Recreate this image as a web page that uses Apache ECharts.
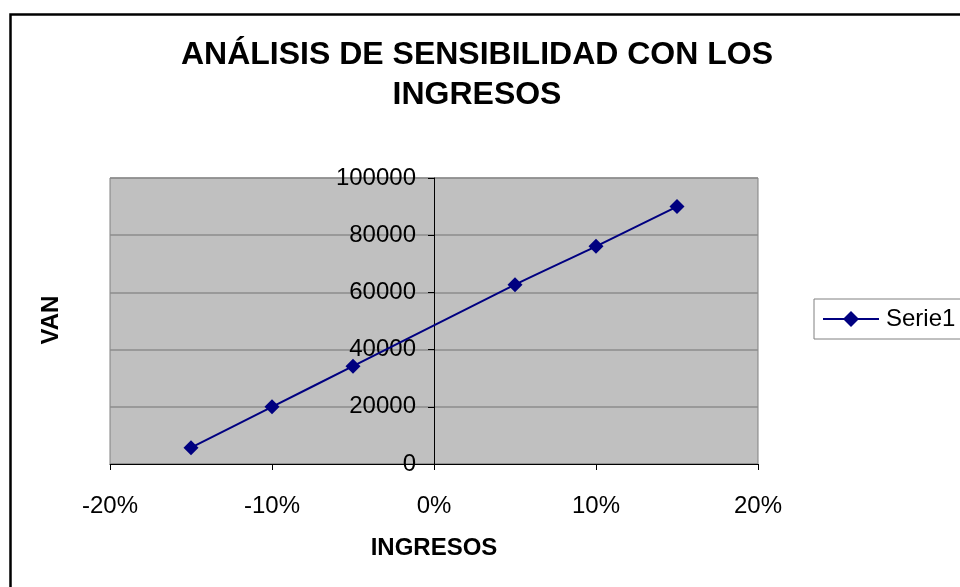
<!DOCTYPE html>
<html>
<head>
    <meta charset="utf-8">
    <title>Análisis de sensibilidad con los ingresos</title>
    <script src="https://cdn.jsdelivr.net/npm/echarts@6/dist/echarts.min.js"></script>
    <style>
        html, body { margin: 0; padding: 0; background: #fff; }
        #chart { width: 960px; height: 587px; }
    </style>
</head>
<body>
<div id="chart"></div>
<script type="text/javascript">
    // variación de ingresos (%) y VAN
    var ingresos = [-15, -10, -5, 5, 10, 15];
    var van = [5700, 20000, 34200, 62700, 76100, 90000];
    var xTicks = [-20, 20, 10];      // min, max, intervalo
    var yTicks = [0, 100000, 20000]; // min, max, intervalo

    var puntos = ingresos.map(function (x, i) {
        return [x, van[i]];
    });

    var font = 'Arial, "Liberation Sans", sans-serif';
    var myChart = echarts.init(document.getElementById('chart'));
    myChart.setOption({
        animation: false,
        backgroundColor: '#fff',
        title: {
            text: 'ANÁLISIS DE SENSIBILIDAD CON LOS\nINGRESOS',
            left: 472,
            textAlign: 'center',
            top: 30,
            textStyle: {
                fontFamily: font,
                fontSize: 32,
                fontWeight: 'bold',
                color: '#000',
                lineHeight: 40
            }
        },
        legend: {
            data: ['Serie1'],
            left: 814,
            top: 299,
            orient: 'vertical',
            padding: [8, 40, 8, 8],
            itemWidth: 56,
            itemHeight: 20,
            itemGap: 0,
            borderColor: '#808080',
            borderWidth: 1,
            textStyle: { fontFamily: font, fontSize: 24, color: '#000', padding: [0, 0, 0, 2] }
        },
        grid: {
            left: 110,
            right: 202,
            top: 178,
            bottom: 123,
            show: true,
            backgroundColor: '#c0c0c0',
            borderColor: '#808080',
            borderWidth: 1
        },
        xAxis: {
            type: 'value',
            min: xTicks[0],
            max: xTicks[1],
            interval: xTicks[2],
            name: 'INGRESOS',
            nameLocation: 'middle',
            nameGap: 72,
            nameTextStyle: { fontFamily: font, fontSize: 24, fontWeight: 'bold', color: '#000' },
            axisLine: { onZero: false, lineStyle: { color: '#000', width: 1 } },
            axisTick: { length: 6, lineStyle: { color: '#000' } },
            axisLabel: { formatter: '{value}%', fontFamily: font, fontSize: 24, color: '#000', margin: 30 },
            splitLine: { show: false }
        },
        yAxis: {
            type: 'value',
            min: yTicks[0],
            max: yTicks[1],
            interval: yTicks[2],
            // el eje vertical cruza en 0%: desplazado hacia la derecha
            offset: -324,
            axisLine: { show: true, onZero: false, lineStyle: { color: '#000', width: 1 } },
            axisTick: { show: true, length: 6, lineStyle: { color: '#000' } },
            axisLabel: {
                fontFamily: font, fontSize: 24, color: '#000', margin: 18,
                formatter: function (v) { return String(v); }
            },
            splitLine: { show: true, lineStyle: { color: '#8c8c8c', width: 1.5 } }
        },
        graphic: [
            {
                type: 'rect',
                left: 8,
                top: 12,
                shape: { width: 1000, height: 700 },
                style: { fill: 'none', stroke: '#000', lineWidth: 2.5 },
                silent: true
            },
            {
                type: 'text',
                x: 51,
                y: 320,
                rotation: Math.PI / 2,
                style: {
                    text: 'VAN',
                    fontFamily: font,
                    fontSize: 24,
                    fontWeight: 'bold',
                    fill: '#000',
                    align: 'center',
                    verticalAlign: 'middle'
                }
            }
        ],
        series: [{
            name: 'Serie1',
            type: 'line',
            data: puntos,
            smooth: 0.2,
            symbol: 'diamond',
            symbolSize: 15,
            color: '#000080',
            lineStyle: { color: '#000080', width: 2 },
            itemStyle: { color: '#000080' }
        }]
    });
</script>
</body>
</html>
